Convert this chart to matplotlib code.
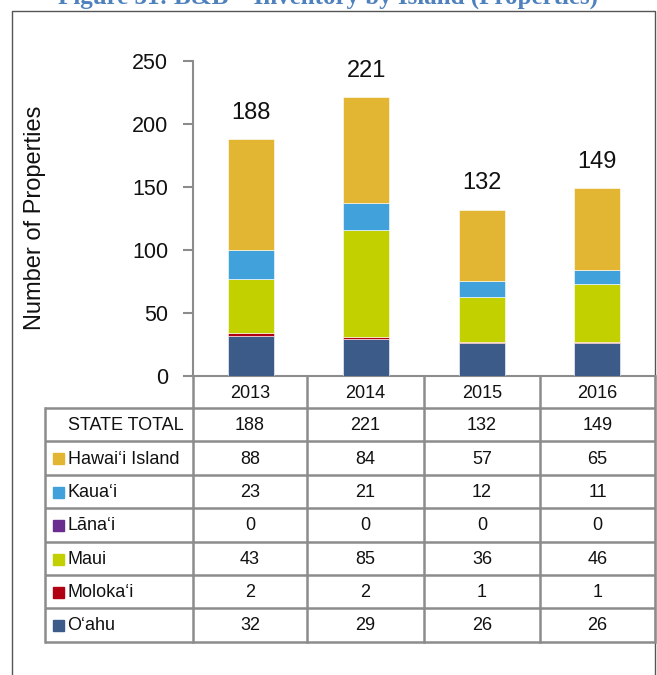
import matplotlib
matplotlib.use("Agg")
import matplotlib.pyplot as plt
from matplotlib.patches import Rectangle
import numpy as np

years = ["2013", "2014", "2015", "2016"]
islands = ["Hawaiʻi Island", "Kauaʻi", "Lānaʻi", "Maui", "Molokaʻi", "Oʻahu"]
hawaii = [88, 84, 57, 65]
kauai = [23, 21, 12, 11]
lanai = [0, 0, 0, 0]
maui = [43, 85, 36, 46]
molokai = [2, 2, 1, 1]
oahu = [32, 29, 26, 26]
state_total = [188, 221, 132, 149]
yticks = [0, 50, 100, 150, 200, 250]

colors = {
    "Oʻahu": "#3D5B89",
    "Molokaʻi": "#B00012",
    "Maui": "#C3D000",
    "Lānaʻi": "#6A2C8F",
    "Kauaʻi": "#41A1DA",
    "Hawaiʻi Island": "#E2B633",
}
series = {"Hawaiʻi Island": hawaii, "Kauaʻi": kauai, "Lānaʻi": lanai,
          "Maui": maui, "Molokaʻi": molokai, "Oʻahu": oahu}

FONT = ["Liberation Sans", "DejaVu Sans"]
plt.rcParams["font.family"] = FONT

W, H = 657, 675
fig = plt.figure(figsize=(W / 100, H / 100), dpi=100)

# overlay in pixel coordinates
ov = fig.add_axes([0, 0, 1, 1])
ov.set_xlim(0, W)
ov.set_ylim(H, 0)
ov.axis("off")

grid = "#8C8C8C"
# outer box
ov.plot([12, 12, 654.5, 654.5], [H + 5, 11, 11, H + 5], color="#555555", lw=1.0)
# title (clipped at top)
fig.text(0.5, 1 - 4 / H, "Figure 31: B&B – Inventory by Island (Properties)",
         ha="center", va="baseline", fontsize=18, fontweight="bold",
         color="#4F81BD", family=["Liberation Serif", "DejaVu Serif"])

# main axes
x0, x1 = 193, 655
ytop, ybot = 60.7, 376
ax = fig.add_axes([x0 / W, 1 - ybot / H, (x1 - x0) / W, (ybot - ytop) / H])
ax.patch.set_alpha(0)
xpos = np.arange(len(years))
bottom = np.zeros(len(years))
for name in ["Oʻahu", "Molokaʻi", "Maui", "Lānaʻi", "Kauaʻi", "Hawaiʻi Island"]:
    vals = np.array(series[name], dtype=float)
    ax.bar(xpos, vals, 0.4, bottom=bottom, color=colors[name],
           edgecolor="white", linewidth=0.4, zorder=3)
    bottom += vals
for i, t in enumerate(state_total):
    ax.annotate(str(t), (xpos[i], bottom[i]), xytext=(0, 11), textcoords="offset points",
                ha="center", va="bottom", fontsize=17, color="#111111")
ax.set_xlim(-0.5, 3.5)
ax.set_ylim(0, 250)
ax.set_yticks(yticks)
ax.set_yticklabels([str(v) for v in yticks], fontsize=15.5, color="#111111")
ax.set_xticks([])
for s in ["top", "right"]:
    ax.spines[s].set_visible(False)
for s in ["left", "bottom"]:
    ax.spines[s].set_color(grid)
    ax.spines[s].set_linewidth(1.5)
ax.tick_params(axis="y", length=7, width=1.5, color=grid, pad=11)

fig.text(35 / W, 1 - 218 / H, "Number of Properties", rotation=90,
         ha="center", va="center", fontsize=17, color="#111111")

# table
cols = [193, 307, 424, 540, 655]
rows = [376, 408, 441, 475, 508, 542, 575, 608, 642]
tl = 45
lw = 1.8
for y in rows[1:]:
    ov.plot([tl, cols[-1]], [y, y], color=grid, lw=lw, solid_capstyle="butt")
ov.plot([tl, tl], [rows[1], rows[-1]], color=grid, lw=lw)
for c in cols:
    ov.plot([c, c], [rows[0], rows[-1]], color=grid, lw=lw)

tfs = 13
for j, yr in enumerate(years):
    xc = (cols[j] + cols[j + 1]) / 2
    ov.text(xc, (rows[0] + rows[1]) / 2 + 1, yr, ha="center", va="center",
            fontsize=tfs, color="#111111")

row_labels = ["STATE TOTAL"] + islands
row_vals = [state_total] + [series[n] for n in islands]
for r, (lab, vals) in enumerate(zip(row_labels, row_vals)):
    yc = (rows[r + 1] + rows[r + 2]) / 2 + 1
    if r == 0:
        ov.text(68, yc, lab, ha="left", va="center", fontsize=tfs, color="#111111")
    else:
        ov.add_patch(Rectangle((52.5, yc - 6), 11, 11, color=colors[lab]))
        ov.text(67.5, yc, lab, ha="left", va="center", fontsize=tfs, color="#111111")
    for j, v in enumerate(vals):
        xc = (cols[j] + cols[j + 1]) / 2
        ov.text(xc, yc, str(v), ha="center", va="center", fontsize=tfs, color="#111111")

fig.savefig("out.png", dpi=100)
